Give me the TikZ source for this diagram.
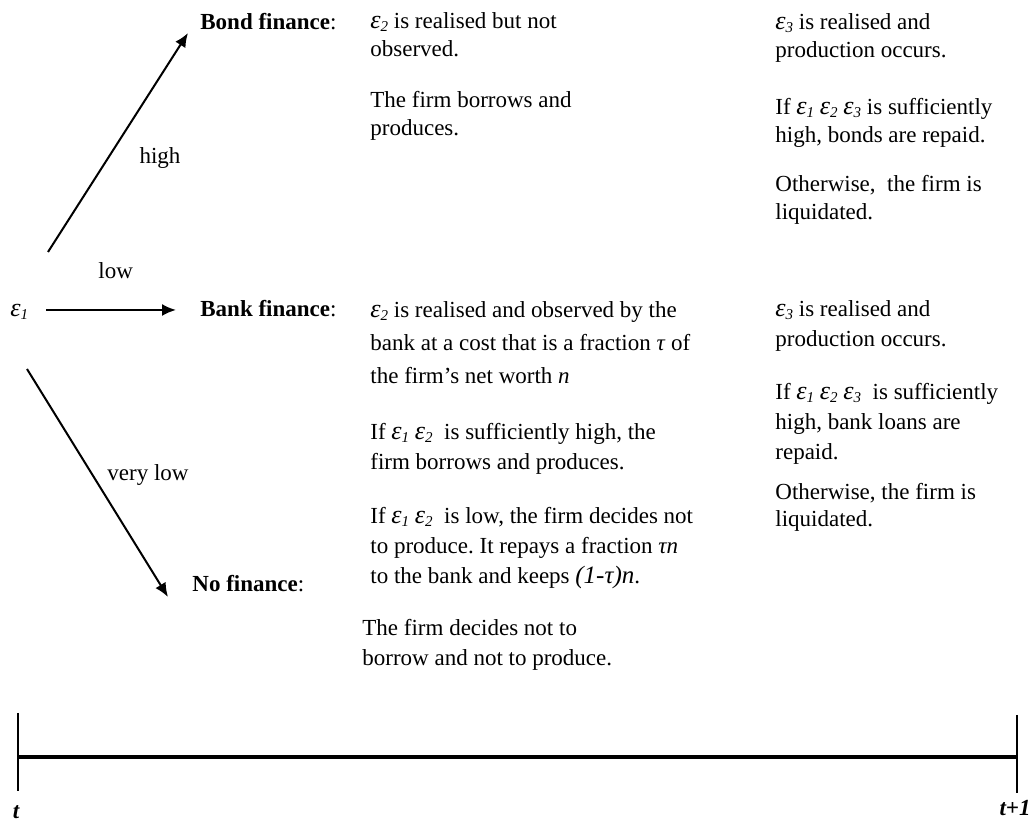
\documentclass[tikz,border=0pt]{standalone}
\usepackage{fontspec}
\setmainfont{Liberation Serif}
\usetikzlibrary{arrows.meta}
\frenchspacing
\newcommand{\eps}[1]{{\itshape{\fontsize{13}{14}\selectfont ε}\raisebox{-0.2ex}{\fontsize{7.5}{8}\selectfont #1}}}
\begin{document}
\begin{tikzpicture}[x=0.5pt, y=-0.5pt,
		txt/.style={anchor=base west, align=left, inner sep=0pt, font=\fontsize{11.5}{14}\selectfont},
		head/.style={txt, font=\fontsize{11.5}{14}\selectfont\bfseries},
		lbl/.style={inner sep=0pt, font=\fontsize{11.5}{14}\selectfont},
		arr/.style={line width=1pt, -{Latex[length=7pt, width=6pt]}}]
		\useasboundingbox (0,0) rectangle (1035,822);
		% shock and the three branches
		\node [txt] (eps1) at (10,317) {\eps{1}};
		\node [head] (bond) at (200,30) {Bond finance\mdseries:};
		\node [head] (bank) at (200,317) {Bank finance\mdseries:};
		\node [head] (none) at (192,592) {No finance\mdseries:};
		\coordinate (hiA) at (48,252);
		\coordinate (hiB) at (188,33);
		\coordinate (loA) at (46,310);
		\coordinate (loB) at (176,310);
		\coordinate (vlA) at (27,369);
		\coordinate (vlB) at (168,597);
		\draw [arr] (hiA) -- (hiB);
		\draw [arr] (loA) -- (loB);
		\draw [arr] (vlA) -- (vlB);
		\node [lbl] (high) at (160,158) {high};
		\node [txt] (low) at (98,279) {low};
		\node [lbl] (vlow) at (148,475) {very low};
		% bond finance (anchors sit on the last line)
		\node [txt] (bond1) at (370,57) {\eps{2} is realised but not\\observed.};
		\node [txt] (bond2) at (370,136) {The firm borrows and\\produces.};
		\node [txt] (bond3) at (775,58) {\eps{3} is realised and\\production occurs.};
		\node [txt] (bond4) at (775,143) {If \eps{1} \eps{2} \eps{3} is sufficiently\\high, bonds are repaid.};
		\node [txt] (bond5) at (775,220) {Otherwise,\ \ the firm is\\liquidated.};
		% bank finance
		\node [txt, font=\fontsize{11.5}{16.5}\selectfont] (bank1) at (370,384) {\eps{2} is realised and observed by the\\bank at a cost that is a fraction \textit{τ} of\\the firm’s net worth \textit{n}};
		\node [txt, font=\fontsize{11.5}{15}\selectfont] (bank2) at (370,470) {If \eps{1} \eps{2}\ \ is sufficiently high, the\\firm borrows and produces.};
		\node [txt, font=\fontsize{11.5}{15}\selectfont] (bank3) at (370,584) {If \eps{1} \eps{2}\ \ is low, the firm decides not\\to produce. It repays a fraction \textit{τn}\\to the bank and keeps {\itshape\fontsize{12.5}{15}\selectfont (1-τ)n}.};
		\node [txt, font=\fontsize{11.5}{15}\selectfont] (bank4) at (775,347) {\eps{3} is realised and\\production occurs.};
		\node [txt, font=\fontsize{11.5}{15}\selectfont] (bank5) at (775,460) {If \eps{1} \eps{2} \eps{3}\ \ is sufficiently\\high, bank loans are\\repaid.};
		\node [txt, font=\fontsize{11.5}{13.5}\selectfont] (bank6) at (775,527) {Otherwise, the firm is\\liquidated.};
		% no finance
		\node [txt, font=\fontsize{11.5}{15}\selectfont] (none1) at (362,666) {The firm decides not to\\borrow and not to produce.};
		% time line
		\coordinate (tL) at (18,757);
		\coordinate (tR) at (1017,757);
		\draw [line width=1pt] (18,713) -- (18,791);
		\draw [line width=1pt] (1017,715) -- (1017,793);
		\draw [line width=1.8pt] (tL) -- (tR);
		\node [lbl, font=\fontsize{11.5}{14}\selectfont\bfseries\itshape] (t0) at (16,812) {t};
		\node [lbl, font=\fontsize{11.5}{14}\selectfont\bfseries\itshape] (t1) at (1015,808) {t+1};
	\end{tikzpicture}
\end{document}
